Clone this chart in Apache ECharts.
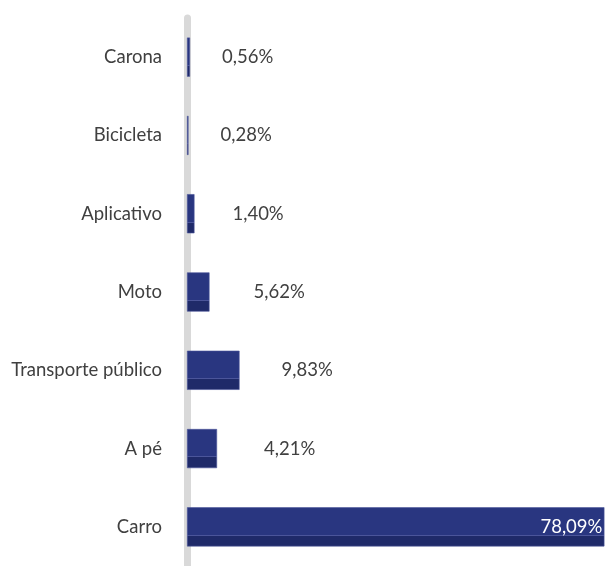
<!DOCTYPE html>
<html>
<head>
<meta charset="utf-8">
<script src="https://cdn.jsdelivr.net/npm/echarts@6/dist/echarts.min.js"></script>
<style>
html,body{margin:0;padding:0;background:#fff;}
#chart{width:608px;height:566px;}
</style>
</head>
<body>
<div id="chart"></div>
<script>
// Categories, bottom to top as drawn
var categories = ['Carro', 'A pé', 'Transporte público', 'Moto', 'Aplicativo', 'Bicicleta', 'Carona'];
// Bar lengths (%)
var values = [78.09, 5.62, 9.83, 4.21, 1.40, 0.28, 0.56];
// Label texts as printed in the picture
var labelTexts = ['78,09%', '4,21%', '9,83%', '5,62%', '1,40%', '0,28%', '0,56%'];

var FONT = 'Lato';
var labelGap = [2, 47, 42, 44, 38, 32, 32];

var barFill = {
  type: 'linear', x: 0, y: 0, x2: 0, y2: 1,
  colorStops: [
    {offset: 0, color: '#293680'},
    {offset: 0.70, color: '#293680'},
    {offset: 0.70, color: '#4b559a'},
    {offset: 0.725, color: '#4b559a'},
    {offset: 0.725, color: '#1f2a69'},
    {offset: 1, color: '#1f2a69'}
  ]
};

var data = values.map(function (v, i) {
  var isMax = i === 0;
  return {
    value: v,
    label: {
      show: true,
      position: isMax ? 'insideRight' : 'right',
      distance: labelGap[i],
      color: isMax ? '#ffffff' : '#404040',
      fontFamily: FONT,
      fontSize: 18.5,
      formatter: function () { return labelTexts[i]; }
    }
  };
});

var chart = echarts.init(document.getElementById('chart'), null, {renderer: 'canvas'});
chart.setOption({
  animation: false,
  backgroundColor: '#ffffff',
  grid: {left: 187, top: 18, width: 418, height: 548, containLabel: false},
  xAxis: {
    type: 'value', min: 0, max: 78.2, show: false
  },
  yAxis: {
    type: 'category',
    data: categories,
    axisLine: {show: true, lineStyle: {color: '#d9d9d9', width: 7}},
    axisTick: {show: false},
    splitLine: {show: false},
    axisLabel: {
      color: '#404040', fontFamily: FONT, fontSize: 18.5, margin: 25
    }
  },
  series: [{
    type: 'bar',
    data: data,
    barWidth: '50%',
    itemStyle: {color: barFill, borderColor: '#4b559a', borderWidth: 0.6}
  }]
});
</script>
</body>
</html>
